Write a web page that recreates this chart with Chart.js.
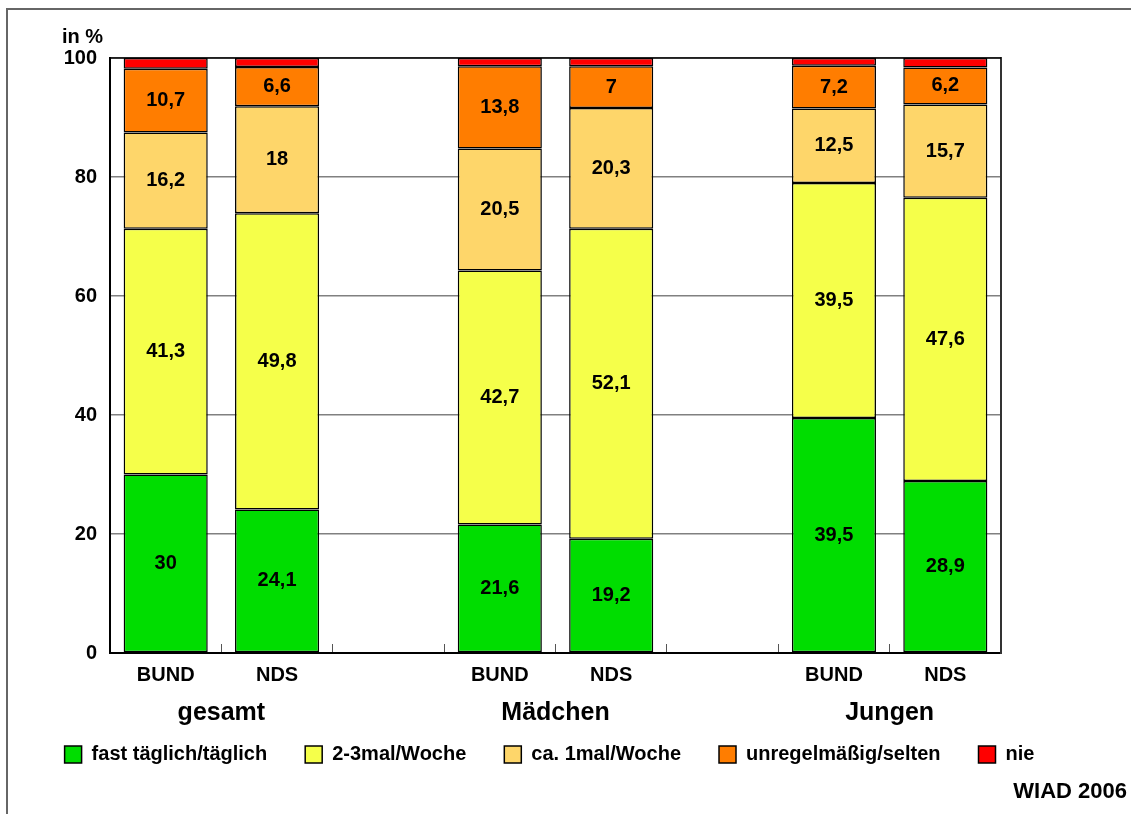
<!DOCTYPE html>
<html>
<head>
<meta charset="utf-8">
<script src="https://cdn.jsdelivr.net/npm/chart.js@4"></script>
<style>
  html, body { margin: 0; padding: 0; background: #fff; }
</style>
</head>
<body>
<canvas id="chart" width="1131" height="814"></canvas>
<script>
// categories along the x axis, empty slots separate the three groups
var categories = ['BUND', 'NDS', '', 'BUND', 'NDS', '', 'BUND', 'NDS'];
var groups = ['gesamt', 'Mädchen', 'Jungen'];
var groupPositions = [0.5, 3.5, 6.5];

// percentages per answer
var taeglich = [30, 24.1, null, 21.6, 19.2, null, 39.5, 28.9];
var wochentlich = [41.3, 49.8, null, 42.7, 52.1, null, 39.5, 47.6];
var einmal = [16.2, 18, null, 20.5, 20.3, null, 12.5, 15.7];
var selten = [10.7, 6.6, null, 13.8, 7, null, 7.2, 6.2];
var nie = [1.8, 1.5, null, 1.4, 1.4, null, 1.3, 1.6];

var seriesNames = ['fast täglich/täglich', '2-3mal/Woche', 'ca. 1mal/Woche', 'unregelmäßig/selten', 'nie'];
var seriesColors = ['#00dd00', '#f5ff4a', '#fed66a', '#ff7d00', '#ff0000'];

var FONT = '"Liberation Sans", Arial, sans-serif';
Chart.defaults.font.family = FONT;
Chart.defaults.color = '#000';

function makeSet(i, data, showValues) {
    return {
        label: seriesNames[i],
        data: data,
        backgroundColor: seriesColors[i],
        borderColor: '#000',
        borderWidth: 1.5,
        borderSkipped: false,
        barPercentage: 0.755,
        categoryPercentage: 1,
        showValues: showValues
    };
}

// numbers written in the middle of each segment
var valueLabels = {
    id: 'valueLabels',
    afterDatasetsDraw: function(chart) {
        var ctx = chart.ctx;
        ctx.save();
        ctx.font = 'bold 20px ' + FONT;
        ctx.fillStyle = '#000';
        ctx.textAlign = 'center';
        ctx.textBaseline = 'middle';
        chart.data.datasets.forEach(function(ds, i) {
            if (!ds.showValues) return;
            chart.getDatasetMeta(i).data.forEach(function(bar, j) {
                var v = ds.data[j];
                if (v == null) return;
                ctx.fillText(String(v).replace('.', ','), bar.x, (bar.y + bar.base) / 2);
            });
        });
        ctx.restore();
    }
};

// outer frame, top edge of the plot, unit and source notes
var frame = {
    id: 'frame',
    beforeDraw: function(chart) {
        var ctx = chart.ctx;
        ctx.save();
        ctx.strokeStyle = '#666';
        ctx.lineWidth = 2;
        ctx.beginPath();
        ctx.moveTo(7, chart.height);
        ctx.lineTo(7, 9);
        ctx.lineTo(chart.width, 9);
        ctx.stroke();
        ctx.restore();
    },
    afterDraw: function(chart) {
        var ctx = chart.ctx;
        var a = chart.chartArea;
        ctx.save();
        ctx.strokeStyle = '#000';
        ctx.lineWidth = 1.5;
        ctx.beginPath();
        ctx.moveTo(a.left, a.top);
        ctx.lineTo(a.right, a.top);
        ctx.stroke();

        ctx.fillStyle = '#000';
        ctx.textBaseline = 'middle';
        ctx.font = 'bold 20px ' + FONT;
        ctx.textAlign = 'left';
        ctx.fillText('in %', 62, 37);
        ctx.font = 'bold 22px ' + FONT;
        ctx.textAlign = 'right';
        ctx.fillText('WIAD 2006', 1127, 792);
        ctx.restore();
    }
};

new Chart(document.getElementById('chart'), {
    type: 'bar',
    data: {
        labels: categories,
        datasets: [
            makeSet(0, taeglich, true),
            makeSet(1, wochentlich, true),
            makeSet(2, einmal, true),
            makeSet(3, selten, true),
            makeSet(4, nie, false)
        ]
    },
    options: {
        responsive: false,
        animation: false,
        layout: { padding: { top: 58, left: 0, right: 32, bottom: 39.5 } },
        plugins: {
            tooltip: { enabled: false },
            legend: {
                position: 'bottom',
                align: 'center',
                labels: {
                    boxWidth: 17,
                    boxHeight: 17,
                    padding: 38,
                    color: '#000',
                    font: { size: 20, weight: 'bold' }
                }
            }
        },
        scales: {
            x: {
                stacked: true,
                weight: 0,
                grid: { drawOnChartArea: false, drawTicks: true, tickLength: -9, color: '#555', offset: true },
                border: { color: '#000', width: 2 },
                ticks: { padding: 19, autoSkip: false, maxRotation: 0, font: { size: 20, weight: 'bold' } },
                afterFit: function(s) { s.height = 30; }
            },
            // group names centred under each pair of bars; mirrored so the
            // text may run past this thin axis box instead of being clipped
            x2: {
                type: 'linear',
                position: 'bottom',
                weight: 1,
                min: -0.5,
                max: 7.5,
                offset: false,
                grid: { display: false, drawTicks: false, offset: false },
                border: { display: false },
                afterBuildTicks: function(s) {
                    s.ticks = groupPositions.map(function(v) { return { value: v }; });
                },
                ticks: {
                    mirror: true,
                    padding: -45,
                    autoSkip: false,
                    maxRotation: 0,
                    font: { size: 25, weight: 'bold' },
                    callback: function(v, i) { return groups[i]; }
                },
                afterFit: function(s) { s.height = 23.5; }
            },
            y: {
                stacked: true,
                min: 0,
                max: 100,
                ticks: { stepSize: 20, padding: 13, font: { size: 20, weight: 'bold' } },
                grid: { color: '#808080', lineWidth: 1.5, drawTicks: false },
                border: { color: '#000', width: 2 },
                afterFit: function(s) { s.width = 110; }
            },
            y2: {
                position: 'right',
                min: 0,
                max: 100,
                grid: { display: false, drawTicks: false },
                ticks: { display: false },
                border: { color: '#333', width: 2 },
                afterFit: function(s) { s.width = 98; }
            }
        }
    },
    plugins: [valueLabels, frame]
});
</script>
</body>
</html>
